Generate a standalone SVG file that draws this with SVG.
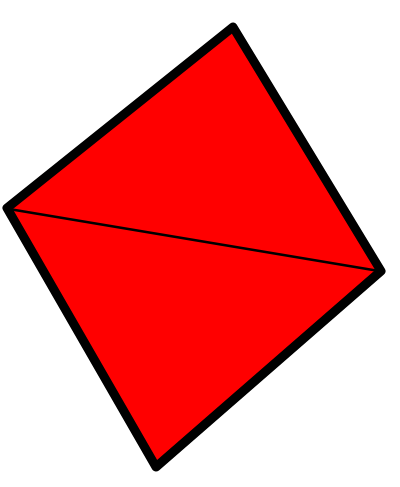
<svg xmlns="http://www.w3.org/2000/svg" width="400" height="487" viewBox="0 0 400 487">
<style>
.shape{fill:#ff0000;stroke:#000;stroke-width:9;stroke-linejoin:round}
.diag{stroke:#000;stroke-width:2.5;fill:none}
</style>
<rect width="400" height="487" fill="#fff"/>
<g id="quad">
<polygon class="shape" points="233,27 381,271 156,467 7,208"/>
</g>
<g id="connectors">
<line class="diag" x1="9" y1="209" x2="379" y2="271"/>
</g>
</svg>
